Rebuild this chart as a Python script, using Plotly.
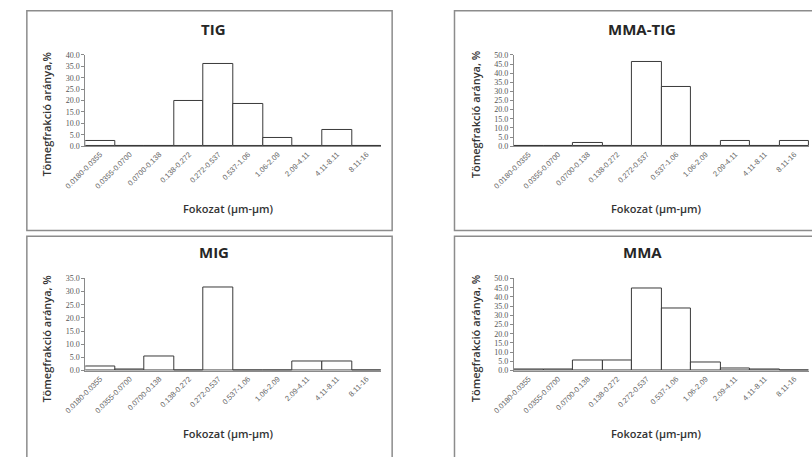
import plotly.graph_objects as go

W, H = 812, 457

categories = ["0.0180-0.0355", "0.0355-0.0700", "0.0700-0.138", "0.138-0.272",
              "0.272-0.537", "0.537-1.06", "1.06-2.09", "2.09-4.11", "4.11-8.11", "8.11-16"]

tig = [2.3, 0, 0, 20.0, 36.0, 18.4, 3.4, 0, 6.9, 0]
mma_tig = [0.3, 0.3, 1.5, 0, 46.2, 32.4, 0, 2.7, 0, 2.7]
mig = [1.7, 0.6, 5.3, 0, 31.6, 0, 0, 3.6, 3.3, 0]
mma = [0.6, 0.6, 5.7, 5.7, 44.6, 33.7, 4.3, 1.0, 0.6, 0]

panels = [
    ("TIG", tig, 40, "Tömegfrakció aránya,%", (66, 370), (52, 145)),
    ("MMA-TIG", mma_tig, 50, "Tömegfrakció aránya, %", (506, 809), (52, 145)),
    ("MIG", mig, 35, "Tömegfrakció aránya, %", (66, 370), (280, 374)),
    ("MMA", mma, 50, "Tömegfrakció aránya, %", (506, 809), (280, 374)),
]

def px(x):
    return x / W

def py(y):
    return 1 - y / H

fig = go.Figure()
annotations = []
shapes = []
layout = {}

for i, (name, vals, ymax, ytitle, (x0, x1), (ytop, yzero)) in enumerate(panels):
    k = "" if i == 0 else str(i + 1)
    fig.add_trace(go.Bar(
        x=categories, y=vals, xaxis="x" + k, yaxis="y" + k,
        marker=dict(color="white", line=dict(color="#3a3a3a", width=1)),
        showlegend=False, hoverinfo="x+y"))
    layout["xaxis" + k] = dict(
        domain=[px(x0), px(x1)], anchor="y" + k, type="category",
        range=[-0.5, 9.5], showline=True, linecolor="#8a8a8a", linewidth=1,
        ticks="", tickangle=-45, showgrid=False, zeroline=False,
        tickfont=dict(family="Liberation Sans", size=7.5, color="#666666"))
    layout["yaxis" + k] = dict(
        domain=[py(yzero), py(ytop)], anchor="x" + k, range=[0, ymax],
        dtick=5, tick0=0, tickformat=".1f", showline=True, linecolor="#8a8a8a",
        linewidth=1, ticks="outside", ticklen=3, tickcolor="#8a8a8a",
        showgrid=False, zeroline=False,
        tickfont=dict(family="Liberation Serif", size=8, color="#555555"))
    cx = (x0 + x1) / 2
    annotations.append(dict(
        text="<b>%s</b>" % name, x=px(cx - 20), y=py(ytop - 27), xref="paper", yref="paper",
        showarrow=False, xanchor="center", yanchor="middle",
        font=dict(family="Open Sans", size=15, color="#262626")))
    annotations.append(dict(
        text=ytitle, x=px(x0 - 40), y=py((ytop + yzero) / 2 + 14), xref="paper", yref="paper",
        showarrow=False, textangle=-90, xanchor="center", yanchor="middle",
        font=dict(family="Open Sans", size=11, color="#333333", weight=600)))
    annotations.append(dict(
        text="Fokozat (µm-µm)", x=px(cx - 5), y=py(yzero + 64), xref="paper", yref="paper",
        showarrow=False, xanchor="center", yanchor="middle",
        font=dict(family="Open Sans", size=11, color="#333333", weight=600)))

frames = [(6, 7, 381, 231), (445, 7, 830, 231), (6, 237, 381, 470), (445, 237, 830, 470)]
for (a, b, c, d) in frames:
    shapes.append(dict(type="rect", xref="paper", yref="paper",
                       x0=px(a), x1=px(c), y0=py(d), y1=py(b),
                       line=dict(color="#8c8c8c", width=1.5), fillcolor="rgba(0,0,0,0)"))

fig.update_layout(
    width=W, height=H, margin=dict(l=0, r=0, t=0, b=0),
    paper_bgcolor="white", plot_bgcolor="white", bargap=0,
    annotations=annotations, shapes=shapes, **layout)

fig.write_html("out.html")
